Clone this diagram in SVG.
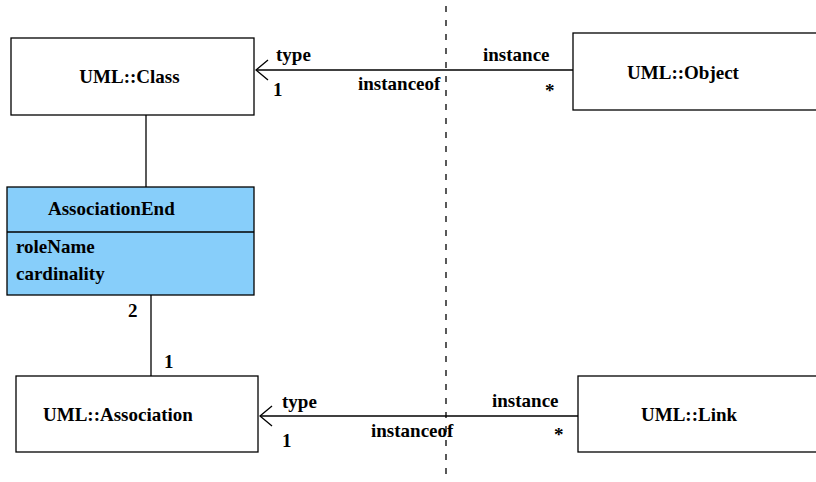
<svg xmlns="http://www.w3.org/2000/svg" width="816" height="482" viewBox="0 0 816 482">
<style>
text{font-family:"Liberation Serif","DejaVu Serif","Times New Roman",serif;font-weight:bold;font-size:19px;fill:#000}
.box{fill:#fff;stroke:#000;stroke-width:1.3}
.ae{fill:#87CEFA;stroke:#000;stroke-width:1.3}
.ln{stroke:#000;stroke-width:1.3;fill:none}
.dash{stroke:#000;stroke-width:1.3;stroke-dasharray:6 8}
</style>
<defs>
<marker id="open" markerWidth="14" markerHeight="22" refX="1" refY="11" orient="auto" markerUnits="userSpaceOnUse">
<path d="M13,1 L1,11 L13,21" fill="none" stroke="#000" stroke-width="1.3"/>
</marker>
</defs>
<line class="dash" x1="446" y1="6" x2="446" y2="482"/>
<g id="connectors">
<line class="ln" x1="256" y1="70" x2="573" y2="70" marker-start="url(#open)"/>
<line class="ln" x1="260" y1="416" x2="578" y2="416" marker-start="url(#open)"/>
<line class="ln" x1="146" y1="115" x2="146" y2="187"/>
<line class="ln" x1="151" y1="295" x2="151" y2="376"/>
<text x="276" y="61">type</text>
<text x="273" y="96">1</text>
<text x="358" y="90">instanceof</text>
<text x="483" y="61">instance</text>
<text x="545" y="97">*</text>
<text x="282" y="408">type</text>
<text x="282" y="447">1</text>
<text x="371" y="437">instanceof</text>
<text x="492" y="407">instance</text>
<text x="554" y="441">*</text>
<text x="128" y="317">2</text>
<text x="164" y="368">1</text>
</g>
<g id="class">
<rect class="box" x="11" y="38" width="243" height="77"/>
<text x="129.5" y="83" text-anchor="middle">UML::Class</text>
</g>
<g id="object">
<rect class="box" x="573" y="33" width="250" height="77"/>
<text x="683" y="79" text-anchor="middle">UML::Object</text>
</g>
<g id="associationEnd">
<rect class="ae" x="7" y="187" width="247" height="108"/>
<line class="ln" x1="7" y1="232" x2="254" y2="232"/>
<text x="48" y="215">AssociationEnd</text>
<text x="16" y="253">roleName</text>
<text x="16" y="280">cardinality</text>
</g>
<g id="association">
<rect class="box" x="16" y="376" width="242" height="76"/>
<text x="43" y="421">UML::Association</text>
</g>
<g id="link">
<rect class="box" x="578" y="376" width="250" height="76"/>
<text x="641" y="421">UML::Link</text>
</g>
</svg>
